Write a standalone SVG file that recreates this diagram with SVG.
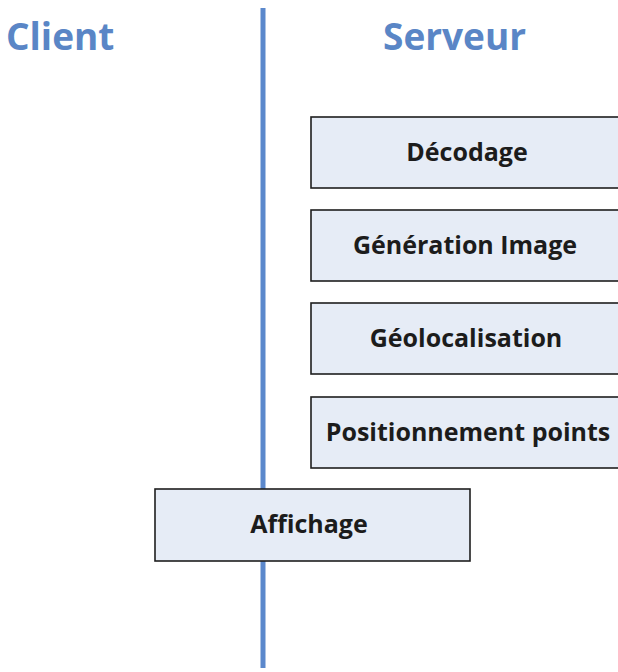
<svg xmlns="http://www.w3.org/2000/svg" width="618" height="672" viewBox="0 0 618 672">
  <style>
    .title { font-family: "Open Sans", "Liberation Sans", sans-serif; font-weight: bold; font-size: 37px; fill: #5a86c6; }
    .box { fill: #e6ecf6; stroke: #1e1e1e; stroke-width: 1.6; }
    .label { font-family: "Open Sans", "Liberation Sans", sans-serif; font-weight: bold; font-size: 25px; fill: #1c1c1c; text-anchor: middle; }
    .lane { stroke: #5b88cc; stroke-width: 5; }
  </style>
  <rect width="618" height="672" fill="#ffffff"/>

  <!-- lane headings -->
  <text class="title" x="6" y="50">Client</text>
  <text class="title" x="383" y="50">Serveur</text>

  <!-- client / server separator -->
  <g id="connectors">
    <line class="lane" x1="263" y1="8" x2="263" y2="668"/>
  </g>

  <g id="decodage">
    <rect class="box" x="311" y="117" width="312" height="71"/>
    <text class="label" x="467" y="161">Décodage</text>
  </g>
  <g id="generation-image">
    <rect class="box" x="311" y="210" width="312" height="71"/>
    <text class="label" x="465" y="254">Génération Image</text>
  </g>
  <g id="geolocalisation">
    <rect class="box" x="311" y="303" width="312" height="71"/>
    <text class="label" x="466" y="347">Géolocalisation</text>
  </g>
  <g id="positionnement-points">
    <rect class="box" x="311" y="397" width="312" height="71"/>
    <text class="label" x="468" y="441">Positionnement points</text>
  </g>
  <g id="affichage">
    <rect class="box" x="155" y="489" width="315" height="72"/>
    <text class="label" x="309" y="533">Affichage</text>
  </g>
</svg>
